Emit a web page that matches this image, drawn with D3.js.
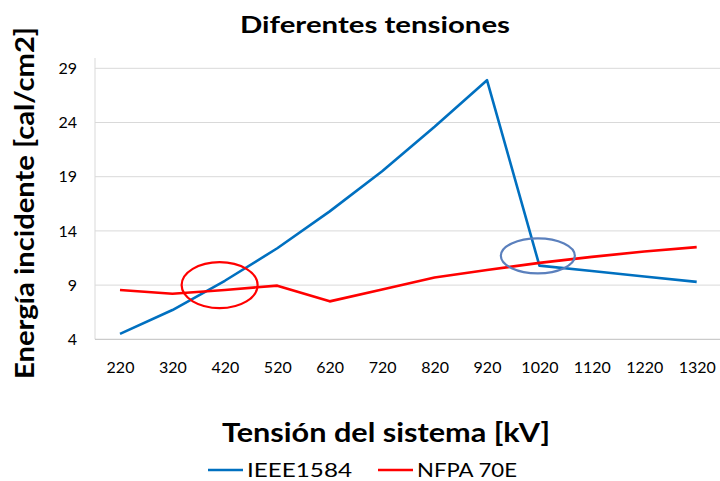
<!DOCTYPE html>
<html><head><meta charset="utf-8">
<script src="https://cdn.jsdelivr.net/npm/d3@7"></script>
<style>body{margin:0;background:#fff}svg{display:block}text{font-family:Lato,"Open Sans",sans-serif}</style>
</head><body>
<svg id="c" width="720" height="481"></svg>
<script>
const categories = [220,320,420,520,620,720,820,920,1020,1120,1220,1320];
const ieee1584 = [4.5,6.7,9.4,12.4,15.8,19.5,23.6,27.9,10.8,10.3,9.8,9.3];
const nfpa70e  = [8.55,8.2,8.55,8.95,7.5,8.6,9.7,10.4,11.05,11.6,12.1,12.5];
const yTicks = [4,9,14,19,24,29];
const seriesNames = ["IEEE1584","NFPA 70E"];
const seriesColors = ["#0070C0","#FF0000"];
// annotation ellipses: position in category index units and value units
const ellipses = [{idx:1.9,val:9.0,rx:38,ry:23,color:"#FF0000"},{idx:7.97,val:11.7,rx:37,ry:17.5,color:"#5B80BD"}];

const svg = d3.select("#c");
const pLeft = 95, pRight = 720, pTop = 68.3, pBottom = 339.3;
const x = d3.scalePoint().domain(categories).range([120, 696.7]);
const xi = d3.scaleLinear().domain([0, categories.length-1]).range(x.range());
const y = d3.scaleLinear().domain([4,29]).range([pBottom, pTop]);

// gridlines
svg.append("g").selectAll("line").data(yTicks.slice(1)).join("line")
  .attr("x1", pLeft).attr("x2", pRight).attr("y1", d=>y(d)).attr("y2", d=>y(d))
  .attr("stroke","#d9d9d9").attr("stroke-width",1);
// axes lines
svg.append("line").attr("x1",pLeft).attr("x2",pLeft).attr("y1",58).attr("y2",pBottom).attr("stroke","#d9d9d9");
svg.append("line").attr("x1",pLeft).attr("x2",pRight).attr("y1",pBottom).attr("y2",pBottom).attr("stroke","#bfbfbf");

// y axis labels
const yAxis = d3.axisLeft(y).tickValues(yTicks).tickSize(0).tickPadding(0);
const gy = svg.append("g").attr("transform",`translate(77,0)`).call(yAxis);
gy.select(".domain").remove();
gy.selectAll("text").attr("font-size",16).attr("fill","#000").attr("font-family","Lato,'Open Sans',sans-serif");

// x axis labels
const xAxis = d3.axisBottom(x).tickSize(0).tickPadding(0);
const gx = svg.append("g").attr("transform",`translate(0,362)`).call(xAxis);
gx.select(".domain").remove();
gx.selectAll("text").attr("font-size",16).attr("fill","#000").attr("font-family","Lato,'Open Sans',sans-serif");

// lines
const line = d3.line().x((d,i)=>x(categories[i])).y(d=>y(d));
[ieee1584, nfpa70e].forEach((s,k)=>{
  svg.append("path").attr("d", line(s)).attr("fill","none")
    .attr("stroke", seriesColors[k]).attr("stroke-width",2.6).attr("stroke-linejoin","round");
});

// ellipses
svg.append("g").selectAll("ellipse").data(ellipses).join("ellipse")
  .attr("cx", d=>xi(d.idx)).attr("cy", d=>y(d.val)).attr("rx", d=>d.rx).attr("ry", d=>d.ry)
  .attr("fill","none").attr("stroke", d=>d.color).attr("stroke-width",2.2);

// titles
svg.append("text").attr("x",375).attr("y",33).attr("text-anchor","middle")
  .attr("font-size",23).attr("font-weight","bold").attr("textLength",270).attr("lengthAdjust","spacingAndGlyphs")
  .text("Diferentes tensiones");
svg.append("text").attr("transform","translate(34,203) rotate(-90)").attr("text-anchor","middle")
  .attr("font-size",26).attr("font-weight","bold").attr("textLength",352).attr("lengthAdjust","spacingAndGlyphs")
  .text("Energía incidente [cal/cm2]");
svg.append("text").attr("x",386).attr("y",442).attr("text-anchor","middle")
  .attr("font-size",26).attr("font-weight","bold").attr("textLength",328).attr("lengthAdjust","spacingAndGlyphs")
  .text("Tensión del sistema [kV]");

// legend
const legX = [208, 378];
const legTW = [105, 100];
seriesNames.forEach((n,k)=>{
  svg.append("line").attr("x1",legX[k]).attr("x2",legX[k]+35).attr("y1",470).attr("y2",470)
    .attr("stroke",seriesColors[k]).attr("stroke-width",2.6);
  svg.append("text").attr("x",legX[k]+39).attr("y",477).attr("font-size",19)
    .attr("textLength",legTW[k]).attr("lengthAdjust","spacingAndGlyphs").text(n);
});
</script>
</body></html>
